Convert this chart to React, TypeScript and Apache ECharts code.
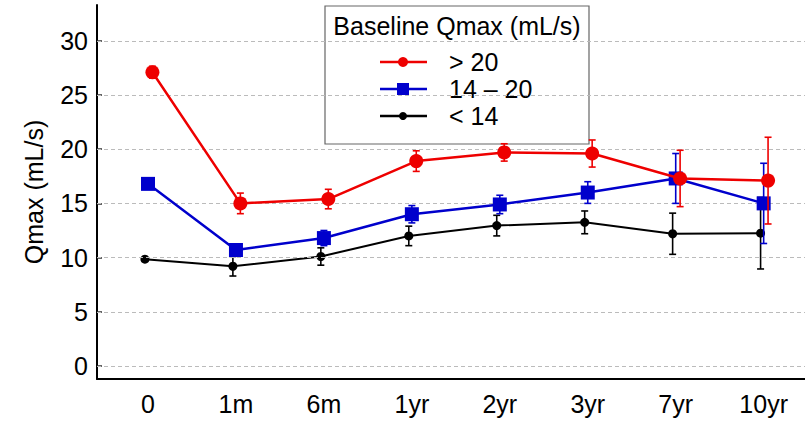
import React, { useEffect, useRef } from "react";
import * as echarts from "echarts";

// Follow-up time points
const categories = ["0", "1m", "6m", "1yr", "2yr", "3yr", "7yr", "10yr"];

// Mean Qmax (mL/s) by baseline group, with error half-widths
const highValues = [27.1, 15.0, 15.4, 18.9, 19.7, 19.6, 17.3, 17.1];
const highErr = [0.55, 0.95, 0.9, 0.95, 0.8, 1.25, 2.6, 4.0];
const midValues = [16.8, 10.7, 11.8, 14.0, 14.9, 16.0, 17.3, 15.0];
const midErr = [0.2, 0.5, 0.7, 0.8, 0.85, 1.0, 2.3, 3.7];
const lowValues = [9.85, 9.2, 10.1, 12.0, 12.95, 13.25, 12.2, 12.25];
const lowErr = [0.15, 0.9, 0.8, 0.9, 0.95, 1.05, 1.9, 3.3];

const yTicks = [0, 5, 10, 15, 20, 25, 30];
const legendTitle = "Baseline Qmax (mL/s)";
const legendLabels = ["> 20", "14 \u2013 20", "< 14"];

const FONT = "Liberation Sans, Arial, sans-serif";
const FONT_SIZE = 25;
const RED = "#ee0000";
const BLUE = "#0000cc";
const BLACK = "#000000";

function points(values: number[], shift: number) {
  return values.map((v, i) => [i + shift, v]);
}

function errorData(values: number[], errs: number[], shift: number) {
  return values.map((v, i) => [i + shift, v - errs[i], v + errs[i]]);
}

function errorSeries(values: number[], errs: number[], shift: number, color: string, z: number) {
  return {
    type: "custom",
    z,
    silent: true,
    data: errorData(values, errs, shift),
    renderItem: (params: any, api: any) => {
      const x = api.value(0);
      const top = api.coord([x, api.value(2)]);
      const bot = api.coord([x, api.value(1)]);
      const w = 3.5;
      const style = { stroke: color, lineWidth: 1.6 };
      return {
        type: "group",
        children: [
          { type: "line", shape: { x1: top[0], y1: top[1], x2: bot[0], y2: bot[1] }, style },
          { type: "line", shape: { x1: top[0] - w, y1: top[1], x2: top[0] + w, y2: top[1] }, style },
          { type: "line", shape: { x1: bot[0] - w, y1: bot[1], x2: bot[0] + w, y2: bot[1] }, style },
        ],
      };
    },
  };
}

function lineSeries(values: number[], shift: number, color: string, symbol: string, size: number, width: number, z: number) {
  return {
    type: "line",
    z,
    data: points(values, shift),
    symbol,
    symbolSize: size,
    showSymbol: true,
    itemStyle: { color },
    lineStyle: { color, width },
    silent: true,
  };
}

function legendItem(y: number, color: string, symbol: string, label: string) {
  const marker =
    symbol === "rect"
      ? { type: "rect", shape: { x: 397, y: y - 6, width: 12, height: 12 }, style: { fill: color } }
      : symbol === "big"
      ? { type: "circle", shape: { cx: 403, cy: y, r: 5 }, style: { fill: color } }
      : { type: "circle", shape: { cx: 403, cy: y, r: 4 }, style: { fill: color } };
  return [
    { type: "line", shape: { x1: 380, y1: y, x2: 427, y2: y }, style: { stroke: color, lineWidth: 2.5 } },
    marker,
    {
      type: "text",
      style: { x: 449, y, text: label, fill: "#000", font: `${FONT_SIZE}px ${FONT}`, textVerticalAlign: "middle" },
    },
  ];
}

export default function App() {
  const ref = useRef<HTMLDivElement>(null);

  useEffect(() => {
    if (!ref.current) return;
    const chart = echarts.init(ref.current, null, { renderer: "svg" });
    chart.setOption({
      animation: false,
      backgroundColor: "#ffffff",
      grid: { left: 97, top: 5, right: 0, bottom: 44, containLabel: false },
      xAxis: {
        type: "value",
        min: -0.58,
        max: 7.47,
        axisLine: { show: true, onZero: false, lineStyle: { color: "#000", width: 2 } },
        axisTick: { show: false },
        splitLine: { show: false },
        axisLabel: {
          customValues: categories.map((_, i) => i),
          formatter: (v: number) => categories[Math.round(v)] ?? "",
          color: "#000",
          fontSize: FONT_SIZE,
          fontFamily: FONT,
          margin: 12,
        },
      },
      yAxis: {
        type: "value",
        min: -1.2,
        max: 33.3,
        name: "Qmax (mL/s)",
        nameLocation: "middle",
        nameGap: 51,
        nameTextStyle: { color: "#000", fontSize: FONT_SIZE, fontFamily: FONT },
        axisLine: { show: true, onZero: false, lineStyle: { color: "#000", width: 2 } },
        axisTick: { show: true, inside: true, length: 5, customValues: yTicks, lineStyle: { color: "#333", width: 1.5 } },
        splitLine: { show: false },
        axisLabel: {
          customValues: yTicks,
          color: "#000",
          fontSize: FONT_SIZE,
          fontFamily: FONT,
          margin: 9,
        },
      },
      series: [
        {
          type: "line",
          data: [],
          silent: true,
          markLine: {
            silent: true,
            symbol: "none",
            label: { show: false },
            lineStyle: { color: "#bbbbbb", type: [4, 3], width: 1 },
            data: yTicks.map((t) => ({ yAxis: t })),
          },
        },
        errorSeries(lowValues, lowErr, -0.035, BLACK, 3),
        lineSeries(lowValues, -0.035, BLACK, "circle", 9, 2, 4),
        errorSeries(midValues, midErr, 0, BLUE, 5),
        lineSeries(midValues, 0, BLUE, "rect", 14, 2.5, 6),
        errorSeries(highValues, highErr, 0.05, RED, 7),
        lineSeries(highValues, 0.05, RED, "circle", 14, 2.5, 8),
      ],
      graphic: [
        {
          type: "group",
          z: 100,
          children: [
            {
              type: "rect",
              shape: { x: 325, y: 6, width: 264, height: 138 },
              style: { fill: "#ffffff", stroke: "#666666", lineWidth: 1.2 },
            },
            {
              type: "text",
              style: {
                x: 457,
                y: 26,
                text: legendTitle,
                fill: "#000",
                font: `${FONT_SIZE}px ${FONT}`,
                textAlign: "center",
                textVerticalAlign: "middle",
              },
            },
            ...legendItem(62, RED, "big", legendLabels[0]),
            ...legendItem(89, BLUE, "rect", legendLabels[1]),
            ...legendItem(116, BLACK, "small", legendLabels[2]),
          ],
        },
      ],
    });
    return () => chart.dispose();
  }, []);

  return (
    <div
      ref={ref}
      style={{ position: "fixed", left: 0, top: 0, width: 805, height: 423, background: "#fff" }}
    />
  );
}
